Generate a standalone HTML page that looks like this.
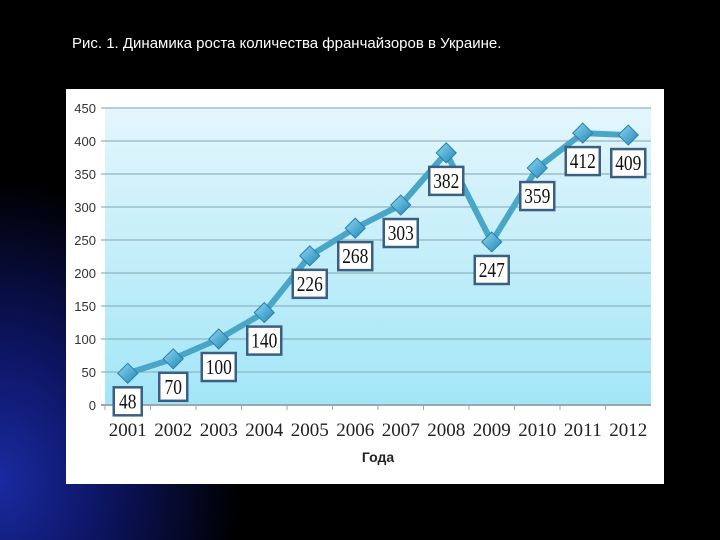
<!DOCTYPE html>
<html><head><meta charset="utf-8"><style>
html,body{margin:0;padding:0;background:#000;}
#wrap{position:relative;width:720px;height:540px;overflow:hidden;background:radial-gradient(ellipse 240px 300px at 0px 480px,#1a2aa0 0%,#0c1460 45%,#000 100%);}
#title{position:absolute;left:72px;top:35px;color:#fff;font:15px "Liberation Sans",sans-serif;}
</style></head><body>
<div id="wrap">
<div id="title">Рис. 1. Динамика роста количества франчайзоров в Украине.</div>
<svg id="chart" width="720" height="540" style="position:absolute;left:0;top:0">
<defs>
<linearGradient id="bg" x1="0" y1="0" x2="0" y2="1"><stop offset="0" stop-color="#e4f6fc"/><stop offset="1" stop-color="#a2e6f7"/></linearGradient>
<linearGradient id="mk" x1="0" y1="0" x2="1" y2="1"><stop offset="0" stop-color="#8fd8f0"/><stop offset="1" stop-color="#1f86b8"/></linearGradient>
</defs>
<rect x="66" y="89" width="598" height="395" fill="#fff"/>
<g id="g"></g>
</svg>
</div>
<script>
const categories=["2001","2002","2003","2004","2005","2006","2007","2008","2009","2010","2011","2012"];
const values=[48,70,100,140,226,268,303,382,247,359,412,409];
const yTicks=[0,50,100,150,200,250,300,350,400,450];
const L=105,R=651,T=108,B=405,YMAX=450;
const step=(R-L)/categories.length;
const x=i=>L+step*(i+0.5);
const y=v=>B-(v/YMAX)*(B-T);
const NS="http://www.w3.org/2000/svg";
const g=document.getElementById('g');
function mk(t,a){const e=document.createElementNS(NS,t);for(const k in a)e.setAttribute(k,a[k]);g.appendChild(e);return e;}
let e=mk('rect',{x:L,y:T,width:R-L,height:B-T,fill:'url(#bg)'});


yTicks.forEach(v=>{
 let l=mk('line',{x1:L-4,x2:R,y1:y(v),y2:y(v),stroke:v?'#8fb3c0':'#9aa7ad','stroke-width':v?1.2:2});
 
 
 let t=mk('text',{x:L-9,y:y(v)+5,'text-anchor':'end','font-family':'Liberation Sans,sans-serif','font-size':13,fill:'#333'});
 t.textContent=v;
 
 
});
categories.forEach((c,i)=>{
 let tk=mk('line',{x1:L+step*i,x2:L+step*i,y1:B,y2:B+5,stroke:'#9aa7ad'});
 
 
 let t=mk('text',{x:x(i),y:B+31,'text-anchor':'middle','font-family':'Liberation Serif,serif','font-size':19,fill:'#222',textLength:38,lengthAdjust:'spacingAndGlyphs'});
 t.textContent=c;
 
 
});
let xt=mk('text',{x:378,y:462,'text-anchor':'middle','font-family':'Liberation Sans,sans-serif','font-size':14,'font-weight':'bold',fill:'#222'});
xt.textContent='Года';


let pl=mk('polyline',{points:values.map((v,i)=>x(i)+','+y(v)).join(' '),fill:'none',stroke:'#4aa6c6','stroke-width':6,'stroke-linejoin':'round'});


values.forEach((v,i)=>{
 let cx=x(i),cy=y(v);
 let d=mk('polygon',{points:`${cx},${cy-10} ${cx+10},${cy} ${cx},${cy+10} ${cx-10},${cy}`,fill:'url(#mk)',stroke:'#2b7ea8','stroke-width':1});
 
 
 let by=cy+14;
 let n=String(v).length;
 let w=n>2?34:28;
 let b=mk('rect',{x:cx-w/2,y:by,width:w,height:28,fill:'#fff',stroke:'#3b5f82','stroke-width':2.5});
 
 
 let t=mk('text',{x:cx,y:by+21,'text-anchor':'middle','font-family':'Liberation Serif,serif','font-size':21,fill:'#111',textLength:n*8.7,lengthAdjust:'spacingAndGlyphs'});
 t.textContent=v;
 
 
});
</script>
</body></html>
